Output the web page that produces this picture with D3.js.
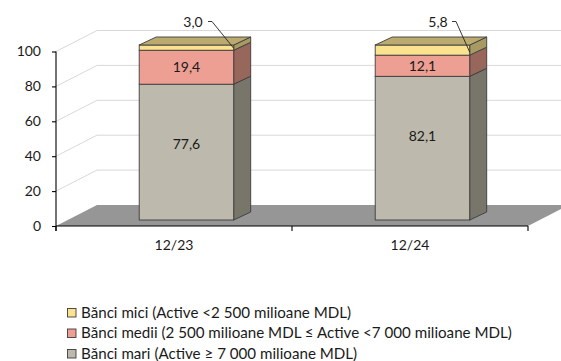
<!DOCTYPE html>
<html><head><meta charset="utf-8">
<script src="https://cdn.jsdelivr.net/npm/d3@7"></script>
<style>html,body{margin:0;padding:0;background:#fff;overflow:hidden}svg{display:block}text{font-family:"Lato",sans-serif;font-size:14px;fill:#1a1a1a}</style>
</head><body><svg id="c" width="561" height="361"></svg>
<script>
const categories = ["12/23","12/24"];
const seriesNames = ["mari","medii","mici"];
const mari = [77.6,82.1];
const medii = [19.4,12.1];
const mici = [3.0,5.8];
const tickValues = [0,20,40,60,80,100];
const legendLabels = ["Bănci mici (Active <2 500 milioane MDL)","Bănci medii (2 500 milioane MDL ≤ Active <7 000 milioane MDL)","Bănci mari (Active ≥ 7 000 milioane MDL)"];
const legendKeys = ["mici","medii","mari"];
const colors = {mari:{f:"#bdb9ad",s:"#78756b"},medii:{f:"#ee9f93",s:"#97675c"},mici:{f:"#fbe28f",s:"#a89a63"}};
const topColor = "#bcab70";

const svg = d3.select("#c");
const yAxis = d3.scaleLinear().domain([0,100]).range([226,51.5]);
const yBar = d3.scaleLinear().domain([0,100]).range([220,45]);
const x = d3.scaleBand().domain(categories).range([56,528]);
const barW = 94.5, barOff = 83.2, dX = 41, dY = 21, bX = 17, bY = 8;
const rows = categories.map((c,i)=>({cat:c,mari:mari[i],medii:medii[i],mici:mici[i]}));
const stacked = d3.stack().keys(seriesNames)(rows);

svg.append("path").attr("fill","#969696")
  .attr("d",d3.line()([[56,226],[528,226],[528+dX,226-dY],[56+dX,226-dY]]));
const grid = tickValues.slice(1);
svg.append("g").selectAll("path").data(grid).join("path")
  .attr("fill","none").attr("stroke","#d9d9d9").attr("stroke-width",1)
  .attr("d",d=>d3.line()([[56,yAxis(d)],[56+dX,yAxis(d)-dY],[561,yAxis(d)-dY]]));

const line = d3.line();
const stroke = "#3c3c3c";
stacked.forEach(s=>{
  const g = svg.append("g");
  s.forEach((d,i)=>{
    const x0 = x(categories[i])+barOff, x1 = x0+barW;
    const y0 = yBar(d[0]), y1 = yBar(d[1]);
    g.append("path").attr("fill",colors[s.key].s).attr("stroke",stroke).attr("stroke-width",0.9).attr("stroke-linejoin","round")
      .attr("d",line([[x1,y0],[x1+bX,y0-bY],[x1+bX,y1-bY],[x1,y1]])+"Z");
    g.append("rect").attr("x",x0).attr("y",y1).attr("width",barW).attr("height",y0-y1)
      .attr("fill",colors[s.key].f).attr("stroke",stroke).attr("stroke-width",0.9);
    if(s.key==="mici"){
      g.append("path").attr("fill",topColor).attr("stroke",stroke).attr("stroke-width",0.9).attr("stroke-linejoin","round")
        .attr("d",line([[x0,y1],[x0+bX,y1-bY],[x1+bX,y1-bY],[x1,y1]])+"Z");
    }
  });
});

const ax = svg.append("g").attr("transform","translate(56,0)")
  .call(d3.axisLeft(yAxis).tickValues(tickValues).tickSize(4).tickPadding(11).tickFormat(d3.format("d")));
ax.select(".domain").attr("stroke","#000").attr("stroke-width",1.1).attr("d",`M0,${yAxis(100)}V${yAxis(0)+5}`);
ax.selectAll("line").attr("stroke","#000").attr("stroke-width",1.1);
ax.selectAll("text").style("font-size","14px").style("font-family","Lato");
const bx = svg.append("g").attr("transform","translate(0,226)")
  .call(d3.axisBottom(x).tickSize(0).tickPadding(14));
bx.select(".domain").attr("stroke","#000").attr("stroke-width",1.1).attr("d","M56,0H528");
bx.selectAll("text").style("font-size","14px").style("font-family","Lato");
svg.append("g").selectAll("line").data([56,292,528]).join("line")
  .attr("x1",d=>d).attr("x2",d=>d).attr("y1",226).attr("y2",231).attr("stroke","#000").attr("stroke-width",1.1);

stacked.filter(s=>s.key!=="mici").forEach(s=>s.forEach((d,i)=>{
  svg.append("text").attr("text-anchor","middle").attr("dy","0.35em")
    .attr("x",x(categories[i])+barOff+barW/2).attr("y",s.key==="mari"?yBar(d[1])+60:yBar((d[0]+d[1])/2))
    .text(d3.format(".1f")(d[1]-d[0]).replace(".",","));
}));
stacked[2].forEach((d,i)=>{
  const x1 = x(categories[i])+barOff+barW;
  const lx = i===0?193:438;
  svg.append("text").attr("text-anchor","middle").attr("dy","0.35em").attr("x",lx).attr("y",22)
    .text(d3.format(".1f")(d[1]-d[0]).replace(".",","));
  const ex = lx+(i===0?15:14), ey=21.5;
  svg.append("path").attr("fill","none").attr("stroke","#222").attr("stroke-width",0.9)
    .attr("d",line([[ex,ey],[ex+4,ey],[x1,yBar(d[0])+(i===0?-2:-3)]]));
});

const lg = svg.append("g").selectAll("g").data(legendLabels).join("g")
  .attr("transform",(d,i)=>`translate(67,${312.5+i*20.5})`);
lg.append("rect").attr("x",0.5).attr("y",-4).attr("width",8.5).attr("height",8.5)
  .attr("fill",(d,i)=>colors[legendKeys[i]].f).attr("stroke","#3c3c3c").attr("stroke-width",0.9);
lg.append("text").attr("x",14).attr("dy","0.35em").style("font-size","15.15px").text(d=>d);
</script></body></html>
